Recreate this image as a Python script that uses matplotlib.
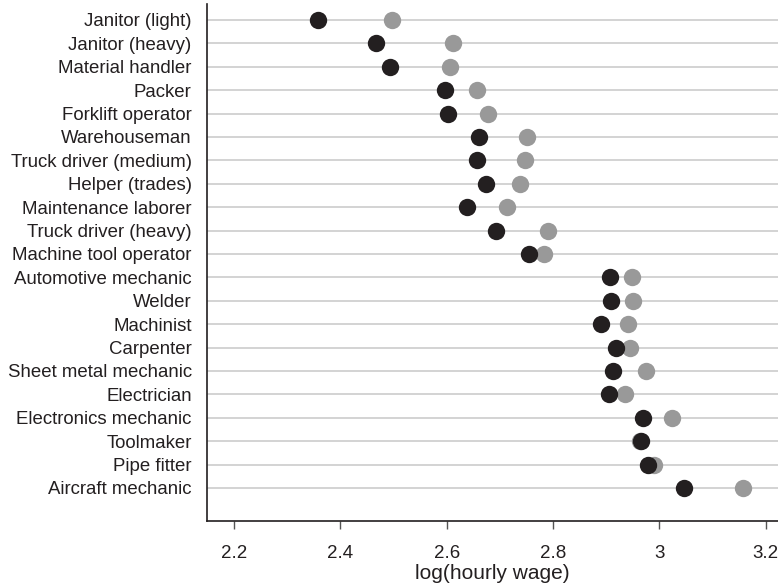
import matplotlib
matplotlib.use("Agg")
import matplotlib.pyplot as plt

plt.rcParams['font.family'] = ['Liberation Sans', 'DejaVu Sans']

# Occupations, top to bottom
jobs = ["Janitor (light)", "Janitor (heavy)", "Material handler", "Packer",
        "Forklift operator", "Warehouseman", "Truck driver (medium)",
        "Helper (trades)", "Maintenance laborer", "Truck driver (heavy)",
        "Machine tool operator", "Automotive mechanic", "Welder", "Machinist",
        "Carpenter", "Sheet metal mechanic", "Electrician",
        "Electronics mechanic", "Toolmaker", "Pipe fitter", "Aircraft mechanic"]

# log hourly wage, black series
wage_black = [2.357, 2.467, 2.494, 2.596, 2.602, 2.660, 2.657, 2.674, 2.638,
              2.692, 2.755, 2.907, 2.908, 2.891, 2.918, 2.912, 2.905,
              2.969, 2.965, 2.979, 3.047]
# log hourly wage, gray series
wage_gray = [2.497, 2.611, 2.607, 2.657, 2.677, 2.751, 2.747, 2.738, 2.713,
             2.791, 2.783, 2.948, 2.950, 2.941, 2.944, 2.975, 2.935,
             3.024, 2.963, 2.990, 3.158]

xticks = [2.2, 2.4, 2.6, 2.8, 3.0, 3.2]
xticklabels = ["2.2", "2.4", "2.6", "2.8", "3", "3.2"]

fig = plt.figure(figsize=(7.78, 5.87), dpi=100)
ax = fig.add_axes([207 / 778, 1 - 521 / 587, 1 - 207 / 778, (521 - 4) / 587])

ypos = list(range(len(jobs)))

# horizontal guide lines
for y in ypos:
    ax.axhline(y, color="#cccccc", lw=1.2, zorder=1)

ax.plot(wage_gray, ypos, "o", color="#999999", ms=12.5, mec="none", zorder=2)
ax.plot(wage_black, ypos, "o", color="#231f20", ms=12.5, mec="none", zorder=3)

ax.set_ylim(21.41, -0.68)
ax.set_xlim(2.149, 3.223)

ax.set_yticks(ypos)
ax.set_yticklabels(jobs, fontsize=13.4, color="#231f20")
ax.tick_params(axis="y", length=0, pad=11)

ax.set_xticks(xticks)
ax.set_xticklabels(xticklabels, fontsize=13.5, color="#231f20")
ax.tick_params(axis="x", length=6, width=1, color="#555555", pad=11)
ax.set_xlabel("log(hourly wage)", fontsize=15, color="#231f20", labelpad=2)

for s in ["top", "right"]:
    ax.spines[s].set_visible(False)
for s in ["left", "bottom"]:
    ax.spines[s].set_color("#231f20")
    ax.spines[s].set_linewidth(1.2)

fig.savefig("out.png", dpi=100)
